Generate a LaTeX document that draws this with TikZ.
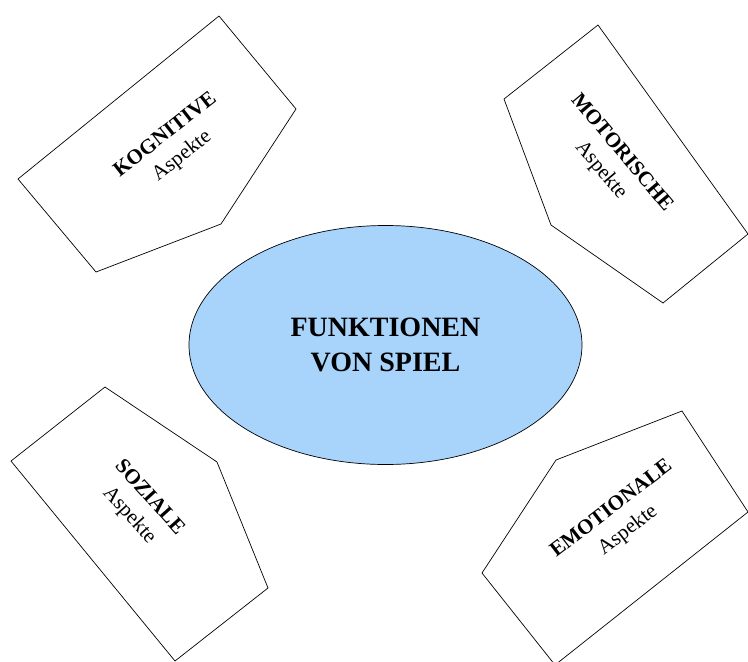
\documentclass[tikz,border=0pt]{standalone}
\usepackage{fontspec}
\setmainfont{Liberation Serif}
\usetikzlibrary{shapes.geometric}
\definecolor{spielblue}{RGB}{168,212,252}

\begin{document}
\begin{tikzpicture}[
  x=1pt,y=-1pt,
  facet/.style={draw,line width=0.7pt,line join=miter},
  facettext/.style={align=center,inner sep=0pt,font=\fontsize{21}{27}\selectfont},
  core/.style={ellipse,draw,line width=0.7pt,fill=spielblue,minimum width=393pt,
    minimum height=239pt,align=center,font=\fontsize{28}{35}\selectfont\bfseries}
]
  \useasboundingbox (0,0) rectangle (748,662);

  % central ellipse
  \node[core] (spiel) at (385.5,345) {FUNKTIONEN\\VON SPIEL};

  % kognitive
  \draw[facet] (219,16) -- (296,109) -- (221,224) -- (96,272) -- (18,179) -- cycle;
  \node[facettext,rotate=38] (kog) at (174,146) {\textbf{KOGNITIVE}\\Aspekte};

  % motorische
  \draw[facet] (598,25) -- (748,234) -- (663,303) -- (551,225) -- (504,99) -- cycle;
  \node[facettext,rotate=-50] (mot) at (611,162) {\textbf{MOTORISCHE}\\Aspekte};

  % soziale
  \draw[facet] (105,387) -- (217,462) -- (268,588) -- (175,661) -- (11,461) -- cycle;
  \node[facettext,rotate=-48] (soz) at (139,507) {\textbf{SOZIALE}\\Aspekte};

  % emotionale
  \draw[facet] (682,411) -- (748,512) -- (555,665) -- (482,573) -- (556,460) -- cycle;
  \node[facettext,rotate=37.5] (emo) at (620,520) {\textbf{EMOTIONALE}\\Aspekte};
\end{tikzpicture}
\end{document}
